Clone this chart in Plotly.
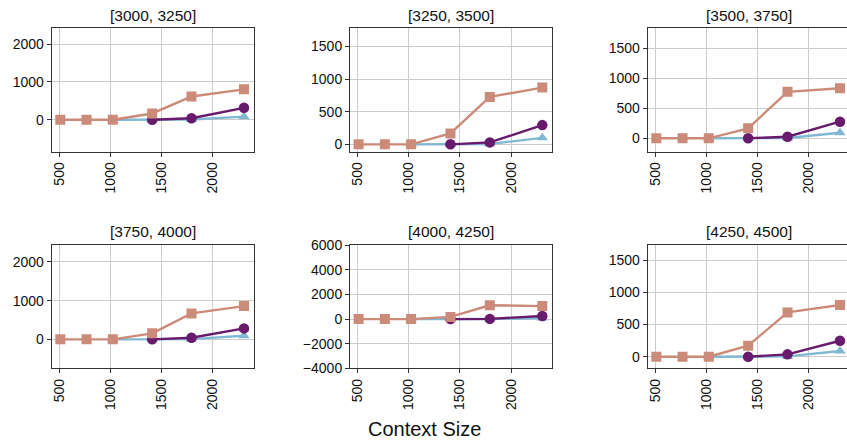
import plotly.graph_objects as go

context_sizes = [512, 768, 1024, 1408, 1792, 2304]
panel_titles = ["[3000, 3250]", "[3250, 3500]", "[3500, 3750]",
                "[3750, 4000]", "[4000, 4250]", "[4250, 4500]"]

# series per panel (None = no point)
salmon = [
    [0, 0, 0, 165, 615, 805],
    [0, 0, 0, 168, 728, 870],
    [0, 0, 0, 167, 775, 833],
    [0, 0, 0, 155, 670, 858],
    [0, 0, 0, 180, 1130, 1060],
    [0, 0, 0, 171, 689, 803],
]
purple = [
    [None, None, None, 0, 37, 315],
    [None, None, None, 0, 30, 295],
    [None, None, None, 0, 27, 277],
    [None, None, None, 0, 43, 283],
    [None, None, None, 0, 20, 260],
    [None, None, None, 0, 37, 248],
]
blue = [
    [None, None, 0, 0, 5, 80],
    [None, None, 0, 0, 5, 100],
    [None, None, 0, 0, 5, 93],
    [None, None, 0, 0, 5, 93],
    [None, None, 0, 0, 5, 90],
    [None, None, 0, 0, 5, 88],
]
y_ranges = [[-849, 2424], [-113, 1780], [-223, 1833],
            [-747, 2448], [-4000, 6070], [-180, 1744]]
y_dticks = [1000, 500, 500, 1000, 2000, 500]
x_label = "Context Size"

W, H = 847, 442
FONT = "Liberation Sans"
C_SALMON = "#cc8b78"
C_PURPLE = "#681a6c"
C_BLUE = "#80b8d4"

col_px = [(51.7, 254.0), (350.0, 551.7), (647.7, 847.0)]
row_px = [(28.3, 151.7), (244.5, 368.3)]
px_per_unit = 0.1025
x0 = 428.0

fig = go.Figure()
annotations = []
for i in range(6):
    r, c = divmod(i, 3)
    ax = "" if i == 0 else str(i + 1)
    xl, xr = col_px[c]
    yt, yb = row_px[r]
    xdom = [xl / W, xr / W]
    ydom = [1 - yb / H, 1 - yt / H]
    xmax = x0 + (xr - xl) / px_per_unit
    clipped = c == 2
    fig.add_trace(go.Scatter(x=context_sizes, y=blue[i], mode="lines+markers",
                             line=dict(color=C_BLUE, width=2.4),
                             marker=dict(symbol="triangle-up", size=10, color=C_BLUE),
                             xaxis="x" + ax, yaxis="y" + ax, showlegend=False))
    fig.add_trace(go.Scatter(x=context_sizes, y=purple[i], mode="lines+markers",
                             line=dict(color=C_PURPLE, width=2.4),
                             marker=dict(symbol="circle", size=10.5, color=C_PURPLE),
                             xaxis="x" + ax, yaxis="y" + ax, showlegend=False))
    fig.add_trace(go.Scatter(x=context_sizes, y=salmon[i], mode="lines+markers",
                             line=dict(color=C_SALMON, width=2.4),
                             marker=dict(symbol="square", size=10, color=C_SALMON),
                             xaxis="x" + ax, yaxis="y" + ax, showlegend=False))
    fig.update_layout(**{
        "xaxis" + ax: dict(domain=xdom, anchor="y" + ax, range=[x0, xmax],
                           tickvals=[500, 1000, 1500, 2000], tickangle=-90,
                           showgrid=True, gridcolor="#cccccc", gridwidth=1,
                           zeroline=False, showline=True, linecolor="#333333",
                           linewidth=1, mirror=True, ticks="outside", ticklen=4,
                           tickcolor="#333333", automargin=False,
                           tickfont=dict(family=FONT, size=14, color="#111111")),
        "yaxis" + ax: dict(domain=ydom, anchor="x" + ax, range=y_ranges[i],
                           dtick=y_dticks[i], tick0=0,
                           showgrid=True, gridcolor="#cccccc", gridwidth=1,
                           zeroline=False, showline=True, linecolor="#333333",
                           linewidth=1, mirror=(not clipped), ticks="outside",
                           ticklen=4, tickcolor="#333333", automargin=False,
                           tickfont=dict(family=FONT, size=14, color="#111111")),
    })
    annotations.append(dict(text=panel_titles[i], xref="paper", yref="paper",
                            x=((xl + (xl + 202.3)) / 2) / W,
                            y=1 - (yt - 13.0) / H, xanchor="center", yanchor="middle",
                            showarrow=False,
                            font=dict(family=FONT, size=15.5, color="#111111")))

annotations.append(dict(text=x_label, xref="paper", yref="paper",
                        x=424 / W, y=0, xanchor="center", yanchor="bottom",
                        showarrow=False, font=dict(family=FONT, size=20, color="#111111")))

fig.update_layout(width=W, height=H,
                  margin=dict(l=0, r=0, t=0, b=0, pad=0, autoexpand=False),
                  plot_bgcolor="white", paper_bgcolor="white",
                  annotations=annotations, showlegend=False)

fig.write_html("out.html")
